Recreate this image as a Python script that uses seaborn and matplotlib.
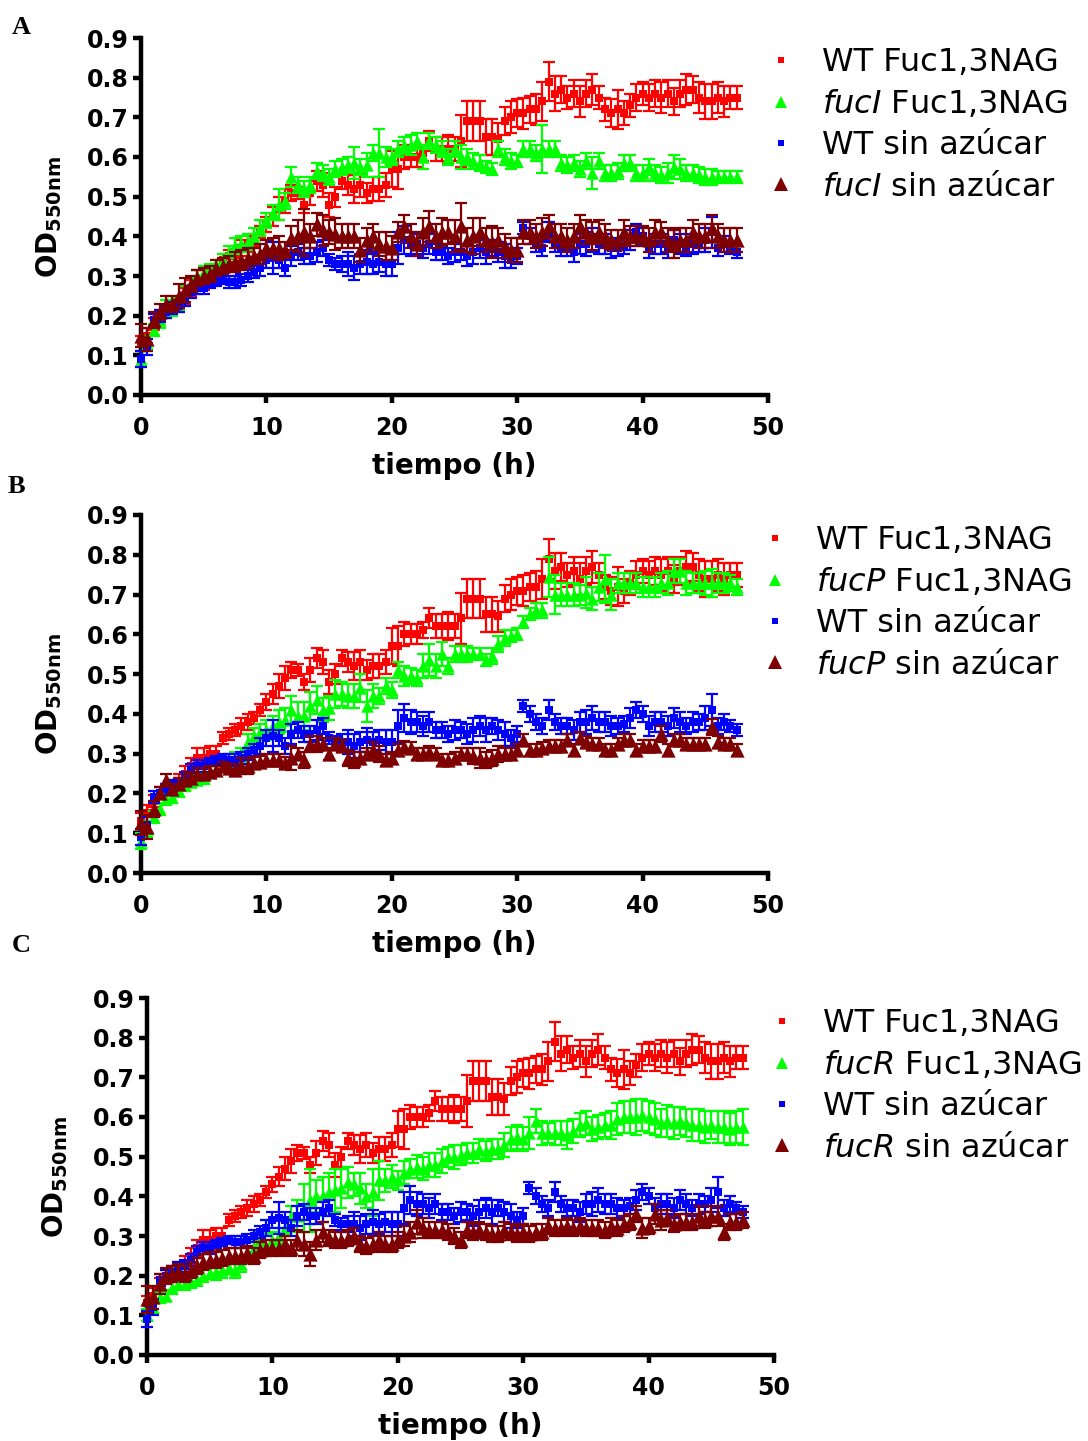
import numpy as np
import pandas as pd
import matplotlib
matplotlib.use("Agg")
import matplotlib.pyplot as plt
import seaborn as sns
from matplotlib.lines import Line2D

# ---------------- data ----------------
time_h = np.arange(0, 48, 0.5)  # sampling every 30 min, 0 .. 47.5 h

wt_fuc = [
    0.13, 0.15, 0.18, 0.20, 0.21, 0.22, 0.23, 0.25, 0.27, 0.29,
    0.29, 0.30, 0.30, 0.34, 0.35, 0.36, 0.37, 0.38, 0.39, 0.41,
    0.43, 0.45, 0.47, 0.49, 0.51, 0.51, 0.48, 0.51, 0.54, 0.53,
    0.48, 0.50, 0.54, 0.53, 0.52, 0.53, 0.51, 0.52, 0.52, 0.53,
    0.57, 0.57, 0.60, 0.60, 0.60, 0.61, 0.64, 0.62, 0.62, 0.62,
    0.62, 0.64, 0.69, 0.69, 0.69, 0.65, 0.65, 0.645, 0.69, 0.70,
    0.71, 0.71, 0.72, 0.72, 0.74, 0.79, 0.76, 0.77, 0.75, 0.76,
    0.74, 0.76, 0.77, 0.75, 0.72, 0.71, 0.72, 0.71, 0.73, 0.75,
    0.76, 0.75, 0.76, 0.75, 0.76, 0.74, 0.76, 0.77, 0.77, 0.75,
    0.74, 0.74, 0.75, 0.74, 0.75, 0.75]
wt_fuc_err = [
    0.02, 0.02, 0.015, 0.015, 0.015, 0.015, 0.02, 0.02, 0.02, 0.025,
    0.025, 0.02, 0.02, 0.015, 0.015, 0.015, 0.02, 0.02, 0.015, 0.015,
    0.02, 0.025, 0.03, 0.03, 0.02, 0.015, 0.02, 0.03, 0.025, 0.03,
    0.03, 0.025, 0.02, 0.025, 0.035, 0.03, 0.025, 0.03, 0.03, 0.03,
    0.045, 0.05, 0.03, 0.025, 0.025, 0.02, 0.025, 0.03, 0.03, 0.035,
    0.03, 0.065, 0.05, 0.05, 0.05, 0.045, 0.045, 0.04, 0.035, 0.04,
    0.035, 0.04, 0.035, 0.04, 0.05, 0.05, 0.045, 0.035, 0.03, 0.035,
    0.04, 0.035, 0.04, 0.03, 0.03, 0.035, 0.05, 0.03, 0.03, 0.035,
    0.03, 0.035, 0.035, 0.04, 0.035, 0.035, 0.035, 0.04, 0.035, 0.04,
    0.045, 0.045, 0.04, 0.04, 0.03, 0.03]

wt_none = [
    0.09, 0.12, 0.19, 0.20, 0.21, 0.22, 0.225, 0.24, 0.26, 0.27,
    0.27, 0.28, 0.285, 0.29, 0.285, 0.285, 0.29, 0.30, 0.31, 0.32,
    0.34, 0.345, 0.34, 0.32, 0.35, 0.36, 0.35, 0.35, 0.36, 0.37,
    0.34, 0.33, 0.33, 0.33, 0.32, 0.33, 0.335, 0.33, 0.335, 0.33,
    0.33, 0.37, 0.39, 0.38, 0.38, 0.37, 0.38, 0.36, 0.36, 0.35,
    0.36, 0.36, 0.35, 0.36, 0.37, 0.36, 0.37, 0.36, 0.35, 0.34,
    0.35, 0.42, 0.40, 0.38, 0.37, 0.41, 0.38, 0.37, 0.37, 0.36,
    0.38, 0.38, 0.39, 0.38, 0.38, 0.37, 0.37, 0.375, 0.39, 0.41,
    0.40, 0.37, 0.38, 0.38, 0.37, 0.39, 0.38, 0.37, 0.38, 0.38,
    0.39, 0.41, 0.37, 0.38, 0.37, 0.36]
wt_none_err = [
    0.02, 0.02, 0.015, 0.015, 0.015, 0.015, 0.015, 0.015, 0.015, 0.015,
    0.015, 0.01, 0.01, 0.01, 0.015, 0.015, 0.015, 0.015, 0.015, 0.02,
    0.02, 0.04, 0.02, 0.02, 0.025, 0.02, 0.02, 0.02, 0.025, 0.02,
    0.015, 0.015, 0.02, 0.03, 0.03, 0.025, 0.03, 0.025, 0.025, 0.03,
    0.03, 0.04, 0.035, 0.03, 0.025, 0.025, 0.025, 0.02, 0.02, 0.02,
    0.025, 0.02, 0.025, 0.03, 0.025, 0.03, 0.02, 0.025, 0.03, 0.02,
    0.02, 0.015, 0.02, 0.02, 0.02, 0.025, 0.02, 0.02, 0.02, 0.025,
    0.025, 0.03, 0.03, 0.025, 0.025, 0.025, 0.02, 0.02, 0.025, 0.02,
    0.02, 0.025, 0.025, 0.025, 0.025, 0.025, 0.025, 0.02, 0.025, 0.02,
    0.03, 0.04, 0.02, 0.02, 0.015, 0.015]

fucI_fuc = [
    0.09, 0.13, 0.165, 0.19, 0.22, 0.22, 0.23, 0.26, 0.28, 0.30,
    0.31, 0.32, 0.33, 0.34, 0.36, 0.375, 0.38, 0.385, 0.40, 0.42,
    0.44, 0.46, 0.48, 0.49, 0.55, 0.53, 0.52, 0.53, 0.565, 0.56,
    0.55, 0.57, 0.575, 0.58, 0.585, 0.575, 0.58, 0.61, 0.61, 0.60,
    0.60, 0.62, 0.63, 0.63, 0.64, 0.60, 0.64, 0.63, 0.62, 0.60,
    0.62, 0.60, 0.60, 0.59, 0.585, 0.575, 0.57, 0.62, 0.60, 0.59,
    0.59, 0.62, 0.62, 0.61, 0.62, 0.62, 0.62, 0.585, 0.58, 0.585,
    0.57, 0.59, 0.56, 0.59, 0.56, 0.56, 0.565, 0.585, 0.585, 0.56,
    0.56, 0.575, 0.56, 0.555, 0.56, 0.575, 0.57, 0.56, 0.56, 0.555,
    0.55, 0.55, 0.55, 0.55, 0.55, 0.55]
fucI_fuc_err = [
    0.02, 0.02, 0.015, 0.02, 0.02, 0.02, 0.015, 0.015, 0.015, 0.015,
    0.015, 0.01, 0.01, 0.015, 0.015, 0.02, 0.02, 0.02, 0.02, 0.02,
    0.02, 0.02, 0.04, 0.02, 0.025, 0.02, 0.02, 0.02, 0.02, 0.02,
    0.02, 0.02, 0.02, 0.02, 0.04, 0.02, 0.03, 0.02, 0.06, 0.025,
    0.02, 0.02, 0.02, 0.025, 0.02, 0.03, 0.02, 0.02, 0.02, 0.02,
    0.02, 0.03, 0.02, 0.02, 0.02, 0.015, 0.015, 0.02, 0.02, 0.02,
    0.015, 0.02, 0.02, 0.02, 0.06, 0.02, 0.02, 0.02, 0.02, 0.02,
    0.02, 0.02, 0.04, 0.02, 0.02, 0.02, 0.02, 0.02, 0.02, 0.02,
    0.02, 0.02, 0.02, 0.02, 0.025, 0.03, 0.025, 0.02, 0.02, 0.02,
    0.02, 0.02, 0.015, 0.015, 0.015, 0.015]

fucI_none = [
    0.15, 0.14, 0.19, 0.21, 0.23, 0.23, 0.25, 0.265, 0.28, 0.295,
    0.30, 0.305, 0.32, 0.325, 0.33, 0.335, 0.34, 0.345, 0.35, 0.355,
    0.37, 0.37, 0.37, 0.365, 0.395, 0.40, 0.41, 0.40, 0.43, 0.415,
    0.41, 0.405, 0.40, 0.40, 0.40, 0.365, 0.39, 0.40, 0.38, 0.375,
    0.37, 0.41, 0.425, 0.40, 0.38, 0.41, 0.425, 0.40, 0.41, 0.41,
    0.40, 0.425, 0.39, 0.40, 0.41, 0.39, 0.385, 0.39, 0.375, 0.365,
    0.365, 0.41, 0.41, 0.40, 0.41, 0.425, 0.40, 0.40, 0.39, 0.40,
    0.425, 0.41, 0.40, 0.41, 0.40, 0.39, 0.39, 0.41, 0.40, 0.40,
    0.40, 0.39, 0.41, 0.41, 0.39, 0.38, 0.39, 0.39, 0.41, 0.40,
    0.40, 0.42, 0.40, 0.39, 0.39, 0.39]
fucI_none_err = [
    0.03, 0.03, 0.02, 0.02, 0.02, 0.02, 0.03, 0.03, 0.02, 0.02,
    0.02, 0.02, 0.02, 0.02, 0.02, 0.025, 0.025, 0.025, 0.02, 0.025,
    0.02, 0.025, 0.03, 0.02, 0.03, 0.04, 0.06, 0.03, 0.03, 0.04,
    0.03, 0.04, 0.03, 0.03, 0.03, 0.03, 0.03, 0.03, 0.03, 0.035,
    0.03, 0.025, 0.03, 0.03, 0.03, 0.035, 0.04, 0.03, 0.035, 0.03,
    0.04, 0.06, 0.03, 0.045, 0.035, 0.03, 0.04, 0.03, 0.03, 0.03,
    0.03, 0.03, 0.03, 0.03, 0.035, 0.03, 0.03, 0.03, 0.03, 0.03,
    0.03, 0.03, 0.035, 0.03, 0.03, 0.025, 0.025, 0.03, 0.025, 0.025,
    0.025, 0.03, 0.03, 0.025, 0.03, 0.035, 0.03, 0.03, 0.03, 0.03,
    0.03, 0.035, 0.03, 0.03, 0.03, 0.03]

fucP_fuc = [
    0.08, 0.11, 0.14, 0.16, 0.185, 0.19, 0.205, 0.22, 0.23, 0.235,
    0.24, 0.255, 0.26, 0.27, 0.275, 0.285, 0.295, 0.33, 0.345, 0.355,
    0.36, 0.37, 0.38, 0.385, 0.41, 0.395, 0.395, 0.42, 0.435, 0.41,
    0.415, 0.45, 0.45, 0.445, 0.445, 0.465, 0.42, 0.445, 0.445, 0.47,
    0.46, 0.51, 0.495, 0.495, 0.49, 0.52, 0.535, 0.52, 0.55, 0.52,
    0.55, 0.55, 0.55, 0.55, 0.55, 0.535, 0.545, 0.575, 0.59, 0.595,
    0.60, 0.63, 0.65, 0.66, 0.66, 0.745, 0.70, 0.70, 0.70, 0.70,
    0.70, 0.705, 0.69, 0.72, 0.74, 0.70, 0.73, 0.73, 0.73, 0.73,
    0.72, 0.72, 0.72, 0.73, 0.73, 0.76, 0.76, 0.73, 0.73, 0.73,
    0.73, 0.73, 0.73, 0.73, 0.73, 0.72]
fucP_fuc_err = [
    0.02, 0.02, 0.015, 0.015, 0.015, 0.015, 0.015, 0.015, 0.015, 0.015,
    0.015, 0.015, 0.015, 0.015, 0.015, 0.02, 0.02, 0.02, 0.02, 0.02,
    0.025, 0.025, 0.03, 0.03, 0.035, 0.035, 0.035, 0.035, 0.035, 0.03,
    0.03, 0.035, 0.03, 0.03, 0.03, 0.035, 0.04, 0.03, 0.02, 0.02,
    0.02, 0.02, 0.025, 0.02, 0.02, 0.03, 0.04, 0.03, 0.03, 0.02,
    0.02, 0.02, 0.02, 0.015, 0.015, 0.015, 0.02, 0.02, 0.02, 0.015,
    0.015, 0.015, 0.015, 0.02, 0.02, 0.05, 0.05, 0.03, 0.03, 0.03,
    0.025, 0.04, 0.03, 0.035, 0.06, 0.04, 0.025, 0.025, 0.025, 0.025,
    0.025, 0.025, 0.025, 0.025, 0.03, 0.03, 0.03, 0.03, 0.025, 0.025,
    0.03, 0.035, 0.025, 0.025, 0.02, 0.02]

fucP_none = [
    0.125, 0.115, 0.16, 0.20, 0.235, 0.21, 0.225, 0.235, 0.24, 0.25,
    0.25, 0.255, 0.26, 0.27, 0.265, 0.26, 0.27, 0.27, 0.277, 0.28,
    0.285, 0.285, 0.285, 0.277, 0.29, 0.30, 0.285, 0.325, 0.325, 0.325,
    0.30, 0.325, 0.32, 0.29, 0.285, 0.29, 0.30, 0.31, 0.30, 0.285,
    0.29, 0.31, 0.317, 0.315, 0.30, 0.30, 0.305, 0.30, 0.285, 0.285,
    0.29, 0.30, 0.30, 0.295, 0.29, 0.285, 0.29, 0.30, 0.30, 0.30,
    0.31, 0.334, 0.31, 0.31, 0.315, 0.32, 0.32, 0.32, 0.334, 0.31,
    0.34, 0.33, 0.325, 0.325, 0.31, 0.31, 0.325, 0.334, 0.334, 0.31,
    0.32, 0.32, 0.32, 0.35, 0.31, 0.334, 0.334, 0.325, 0.325, 0.325,
    0.325, 0.368, 0.33, 0.325, 0.325, 0.31]
fucP_none_err = [
    0.03, 0.03, 0.02, 0.015, 0.015, 0.015, 0.015, 0.015, 0.015, 0.015,
    0.015, 0.015, 0.01, 0.01, 0.01, 0.015, 0.02, 0.02, 0.015, 0.015,
    0.015, 0.015, 0.015, 0.015, 0.03, 0.015, 0.02, 0.02, 0.02, 0.015,
    0.015, 0.015, 0.015, 0.02, 0.02, 0.015, 0.015, 0.02, 0.02, 0.015,
    0.015, 0.015, 0.015, 0.015, 0.015, 0.015, 0.015, 0.015, 0.015, 0.015,
    0.015, 0.015, 0.015, 0.02, 0.025, 0.02, 0.02, 0.02, 0.015, 0.015,
    0.015, 0.015, 0.015, 0.015, 0.015, 0.015, 0.015, 0.015, 0.015, 0.015,
    0.015, 0.015, 0.015, 0.015, 0.015, 0.015, 0.015, 0.015, 0.015, 0.015,
    0.015, 0.015, 0.015, 0.02, 0.015, 0.015, 0.015, 0.015, 0.015, 0.015,
    0.015, 0.02, 0.015, 0.015, 0.015, 0.015]

fucR_fuc = [
    0.10, 0.12, 0.145, 0.15, 0.17, 0.18, 0.18, 0.185, 0.19, 0.20,
    0.206, 0.21, 0.215, 0.22, 0.215, 0.23, 0.25, 0.27, 0.29, 0.32,
    0.29, 0.30, 0.32, 0.35, 0.35, 0.37, 0.39, 0.40, 0.40, 0.41,
    0.415, 0.42, 0.435, 0.43, 0.42, 0.40, 0.41, 0.44, 0.44, 0.45,
    0.44, 0.46, 0.47, 0.475, 0.47, 0.48, 0.48, 0.49, 0.50, 0.50,
    0.505, 0.51, 0.51, 0.52, 0.515, 0.52, 0.52, 0.53, 0.545, 0.55,
    0.545, 0.56, 0.59, 0.56, 0.56, 0.56, 0.56, 0.555, 0.565, 0.58,
    0.585, 0.57, 0.575, 0.58, 0.58, 0.595, 0.60, 0.60, 0.60, 0.605,
    0.60, 0.595, 0.585, 0.59, 0.585, 0.59, 0.585, 0.58, 0.58, 0.575,
    0.58, 0.575, 0.575, 0.57, 0.575, 0.575]
fucR_fuc_err = [
    0.015, 0.015, 0.015, 0.015, 0.015, 0.015, 0.015, 0.015, 0.015, 0.015,
    0.015, 0.02, 0.02, 0.015, 0.02, 0.02, 0.02, 0.02, 0.02, 0.02,
    0.02, 0.02, 0.02, 0.025, 0.04, 0.06, 0.08, 0.04, 0.05, 0.05,
    0.055, 0.05, 0.04, 0.03, 0.04, 0.03, 0.06, 0.05, 0.03, 0.03,
    0.025, 0.03, 0.025, 0.03, 0.03, 0.03, 0.03, 0.03, 0.025, 0.03,
    0.025, 0.025, 0.025, 0.025, 0.025, 0.025, 0.025, 0.03, 0.03, 0.03,
    0.03, 0.04, 0.03, 0.03, 0.025, 0.03, 0.03, 0.035, 0.03, 0.03,
    0.03, 0.03, 0.03, 0.03, 0.035, 0.04, 0.04, 0.04, 0.045, 0.04,
    0.04, 0.04, 0.035, 0.04, 0.04, 0.035, 0.035, 0.04, 0.04, 0.04,
    0.035, 0.04, 0.04, 0.04, 0.04, 0.045]

fucR_none = [
    0.14, 0.145, 0.18, 0.20, 0.205, 0.21, 0.205, 0.215, 0.225, 0.235,
    0.24, 0.24, 0.245, 0.25, 0.25, 0.25, 0.256, 0.25, 0.265, 0.27,
    0.27, 0.27, 0.28, 0.27, 0.29, 0.28, 0.255, 0.29, 0.31, 0.295,
    0.29, 0.29, 0.295, 0.30, 0.28, 0.275, 0.28, 0.29, 0.28, 0.28,
    0.29, 0.30, 0.31, 0.335, 0.32, 0.315, 0.315, 0.315, 0.31, 0.30,
    0.29, 0.315, 0.31, 0.315, 0.31, 0.305, 0.305, 0.315, 0.31, 0.305,
    0.31, 0.305, 0.31, 0.31, 0.325, 0.32, 0.32, 0.325, 0.32, 0.325,
    0.32, 0.32, 0.32, 0.315, 0.325, 0.32, 0.33, 0.335, 0.355, 0.32,
    0.325, 0.355, 0.34, 0.345, 0.33, 0.335, 0.335, 0.335, 0.35, 0.34,
    0.35, 0.35, 0.31, 0.335, 0.335, 0.34]
fucR_none_err = [
    0.035, 0.03, 0.025, 0.02, 0.02, 0.02, 0.02, 0.02, 0.02, 0.02,
    0.02, 0.02, 0.02, 0.02, 0.02, 0.02, 0.02, 0.02, 0.02, 0.02,
    0.02, 0.02, 0.02, 0.02, 0.025, 0.03, 0.03, 0.025, 0.025, 0.02,
    0.02, 0.02, 0.02, 0.02, 0.02, 0.02, 0.02, 0.02, 0.02, 0.02,
    0.02, 0.025, 0.025, 0.03, 0.025, 0.02, 0.02, 0.02, 0.02, 0.02,
    0.02, 0.02, 0.02, 0.02, 0.02, 0.02, 0.02, 0.02, 0.02, 0.02,
    0.02, 0.02, 0.02, 0.02, 0.02, 0.02, 0.02, 0.02, 0.02, 0.02,
    0.02, 0.02, 0.02, 0.02, 0.02, 0.02, 0.02, 0.02, 0.02, 0.025,
    0.02, 0.025, 0.025, 0.02, 0.02, 0.02, 0.02, 0.02, 0.025, 0.02,
    0.025, 0.025, 0.02, 0.02, 0.02, 0.02]

panel_letters = ["A", "B", "C"]
mutants = ["fucI", "fucP", "fucR"]
x_ticks = [0, 10, 20, 30, 40, 50]
y_ticks = [0.0, 0.1, 0.2, 0.3, 0.4, 0.5, 0.6, 0.7, 0.8, 0.9]
x_label = "tiempo (h)"
y_label = r"$\mathbf{OD_{550nm}}$"

# ---------------- style ----------------
sns.set_style("ticks")
plt.rcParams["font.family"] = ["DejaVu Sans"]
plt.rcParams["mathtext.fontset"] = "dejavusans"
for key in ["text.color", "axes.labelcolor", "xtick.color", "ytick.color",
            "axes.edgecolor"]:
    plt.rcParams[key] = "black"

RED, GREEN, BLUE, BROWN = "#FF0000", "#00FF00", "#0000FF", "#7F0000"

fig = plt.figure(figsize=(10.88, 14.41), dpi=100)
W, H = 1088.0, 1441.0

# axes boxes in pixels: left, right, top(0.9), bottom(0)
boxes = [(141, 768, 38, 395), (141, 768, 515, 873), (147, 774, 998, 1355)]
legend_pos = [(765, 47), (759, 525), (766, 1008)]
letter_pos = [(12, 27), (8, 487), (12, 945)]

panels = [
    (fucI_fuc, fucI_fuc_err, fucI_none, fucI_none_err),
    (fucP_fuc, fucP_fuc_err, fucP_none, fucP_none_err),
    (fucR_fuc, fucR_fuc_err, fucR_none, fucR_none_err),
]

for i, (mut_fuc, mut_fuc_err, mut_none, mut_none_err) in enumerate(panels):
    l, r, t, b = boxes[i]
    ax = fig.add_axes([l / W, 1 - b / H, (r - l) / W, (b - t) / H])
    mut = mutants[i]
    series = [
        ("WT Fuc1,3NAG", wt_fuc, wt_fuc_err, RED, "s", 28),
        (r"$\mathit{%s}$ Fuc1,3NAG" % mut, mut_fuc, mut_fuc_err, GREEN, "^", 80),
        ("WT sin azúcar", wt_none, wt_none_err, BLUE, "s", 40),
        (r"$\mathit{%s}$ sin azúcar" % mut, mut_none, mut_none_err, BROWN, "^", 105),
    ]
    legend_ms = [5, 9, 5, 10]
    handles = []
    for k, (lab, y, e, c, m, s) in enumerate(series):
        df = pd.DataFrame({"t": time_h, "od": y, "err": e})
        ax.errorbar(df["t"], df["od"], yerr=df["err"], fmt="none", ecolor=c,
                    elinewidth=1.6, capsize=4.5, capthick=1.6, zorder=2 + k,
                    clip_on=False)
        sns.scatterplot(data=df, x="t", y="od", ax=ax, color=c, marker=m, s=s,
                        linewidth=0, zorder=2.5 + k, clip_on=False, legend=False)
        handles.append(Line2D([], [], linestyle="none", marker=m, color=c,
                              markersize=legend_ms[k], markeredgewidth=0,
                              label=lab))

    ax.set_xlim(0, 50)
    ax.set_ylim(0, 0.9)
    ax.set_xticks(x_ticks)
    ax.set_yticks(y_ticks)
    ax.set_xticklabels([str(v) for v in x_ticks])
    ax.set_yticklabels([f"{v:.1f}" for v in y_ticks])
    sns.despine(ax=ax)
    for sp in ["left", "bottom"]:
        ax.spines[sp].set_linewidth(3.2)
        ax.spines[sp].set_color("black")
    ax.tick_params(axis="both", direction="out", length=6, width=3.2,
                   labelsize=17, colors="black")
    ax.tick_params(axis="x", pad=9)
    ax.tick_params(axis="y", pad=3)
    for lbl in ax.get_xticklabels() + ax.get_yticklabels():
        lbl.set_fontweight("bold")
    ax.set_xlabel(x_label, fontsize=20, fontweight="bold", labelpad=9)
    ax.set_ylabel(y_label, fontsize=20, labelpad=16)
    ax.set_facecolor("white")

    lx, ly = legend_pos[i]
    leg = ax.legend(handles=handles, loc="upper left",
                    bbox_to_anchor=(lx / W, 1 - ly / H),
                    bbox_transform=fig.transFigure,
                    frameon=False, fontsize=23, handlelength=1.0,
                    handletextpad=0.78, labelspacing=0.32, borderpad=0,
                    borderaxespad=0)
    for txt in leg.get_texts():
        txt.set_color("black")

    px, py = letter_pos[i]
    fig.text(px / W, 1 - py / H, panel_letters[i], fontfamily="Liberation Serif",
             fontweight="bold", fontsize=19, va="center", ha="left")

fig.savefig("out.png", dpi=100, facecolor="white")
